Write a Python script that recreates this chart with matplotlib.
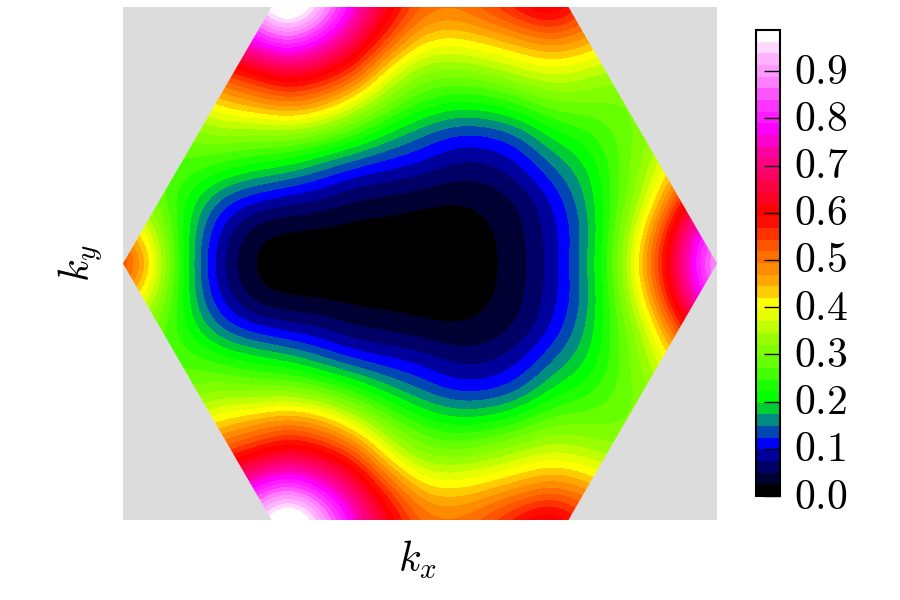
import numpy as np
import matplotlib.pyplot as plt
from matplotlib.colors import ListedColormap, BoundaryNorm
from matplotlib.patches import Polygon

plt.rcParams['mathtext.fontset'] = 'cm'

# band colours of the colorbar, bottom to top
band_colors = [
    '#000000', '#000033', '#000066', '#00009c', '#0000ff', '#0047b3', '#008c80', '#00cc33',
    '#00ff00', '#1eff00', '#44ff00', '#66ff00', '#80ff00', '#99ff00', '#c0ff00', '#e6ff00',
    '#ffff00', '#ffcc00', '#ffa600', '#ff8c00', '#ff6f00', '#ff5500', '#ff3300', '#ff0d00',
    '#ff0000', '#ff0022', '#ff0040', '#ff0060', '#ff0080', '#ff00a0', '#ff00cc', '#ff00ff',
    '#ff1aff', '#ff33ff', '#ff55ff', '#ff80ff', '#ff99ff', '#ffb3ff', '#ffd9ff', '#ffffff',
]
vmax = 0.987
tick_values = [0.0, 0.1, 0.2, 0.3, 0.4, 0.5, 0.6, 0.7, 0.8, 0.9]
tick_labels = ['$0.0$', '$0.1$', '$0.2$', '$0.3$', '$0.4$', '$0.5$', '$0.6$', '$0.7$', '$0.8$', '$0.9$']

# field values, rows from top to bottom
field = np.array([
    [.52, .60, .72, .85, .93, 1.10, .94, .77, .63, .52, .50, .54, .60, .655, .56, .50, .48, .48, .46],
    [.45, .52, .62, .72, .80, .87, .79, .68, .55, .43, .415, .435, .465, .50, .47, .42, .40, .42, .42],
    [.36, .42, .50, .55, .60, .66, .62, .56, .40, .32, .31, .33, .36, .385, .36, .33, .33, .36, .38],
    [.30, .32, .38, .43, .465, .50, .47, .385, .30, .245, .215, .22, .25, .295, .295, .29, .31, .34, .38],
    [.30, .27, .30, .325, .31, .32, .29, .245, .19, .148, .115, .115, .14, .205, .235, .275, .32, .38, .44],
    [.32, .27, .265, .235, .21, .19, .15, .118, .10, .09, .065, .063, .09, .145, .19, .265, .345, .46, .55],
    [.36, .29, .215, .135, .10, .082, .072, .045, .04, .03, .022, .03, .048, .097, .168, .265, .38, .58, .72],
    [.48, .35, .188, .085, .026, .015, .014, .012, .01, .008, .009, .018, .039, .084, .148, .28, .46, .70, .87],
    [.60, .40, .18, .068, .015, .008, .007, .005, .004, .004, .006, .016, .036, .083, .16, .29, .51, .72, .95],
    [.48, .35, .188, .085, .026, .015, .014, .012, .01, .008, .009, .018, .039, .084, .148, .28, .46, .70, .87],
    [.36, .29, .215, .135, .10, .082, .072, .045, .04, .03, .022, .03, .048, .097, .168, .265, .38, .58, .72],
    [.32, .27, .265, .235, .21, .19, .15, .118, .10, .09, .065, .063, .09, .145, .19, .265, .345, .46, .55],
    [.30, .27, .30, .325, .31, .32, .29, .245, .19, .148, .115, .115, .14, .205, .235, .275, .32, .38, .44],
    [.30, .32, .38, .43, .465, .50, .47, .385, .30, .245, .215, .22, .25, .295, .295, .29, .31, .34, .38],
    [.36, .42, .50, .55, .60, .66, .62, .56, .40, .32, .31, .33, .36, .385, .36, .33, .33, .36, .38],
    [.45, .52, .62, .72, .80, .87, .79, .68, .55, .43, .415, .435, .465, .50, .47, .42, .40, .42, .42],
    [.52, .60, .72, .85, .93, 1.10, .94, .77, .63, .52, .50, .54, .60, .655, .56, .50, .48, .48, .46],
])

kx_max = 4 * np.pi / 3
ky_max = 2 * np.pi / np.sqrt(3)
nrow, ncol = field.shape
dx = 2 * kx_max / (ncol - 1) / 2
dy = 2 * ky_max / (nrow - 1) / 2

cmap = ListedColormap(band_colors)
cmap.set_under(band_colors[0])
cmap.set_over(band_colors[-1])
levels = np.linspace(0, vmax, len(band_colors) + 1)
norm = BoundaryNorm(levels, cmap.N)

fig = plt.figure(figsize=(9, 6), dpi=100)
ax = fig.add_axes([123 / 900, 1 - 520 / 600, 594 / 900, 513 / 600])
ax.set_facecolor('#dcdcdc')
im = ax.imshow(field, extent=(-kx_max - dx, kx_max + dx, -ky_max - dy, ky_max + dy),
               origin='upper', aspect='auto', cmap=cmap, norm=norm,
               interpolation='bicubic', interpolation_stage='data')
ax.set_xlim(-kx_max, kx_max)
ax.set_ylim(-ky_max, ky_max)

# first Brillouin zone
hexagon = Polygon([(-kx_max, 0), (-kx_max / 2, ky_max), (kx_max / 2, ky_max),
                   (kx_max, 0), (kx_max / 2, -ky_max), (-kx_max / 2, -ky_max)],
                  transform=ax.transData, facecolor='none', edgecolor='none')
ax.add_patch(hexagon)
im.set_clip_path(hexagon)

ax.set_xticks([])
ax.set_yticks([])
for s in ax.spines.values():
    s.set_visible(False)

fig.text(417 / 900, 1 - 560 / 600, '$k_x$', fontsize=30, ha='center', va='center')
fig.text(81 / 900, 1 - 263 / 600, '$k_y$', fontsize=30, ha='center', va='center', rotation=90)

cax = fig.add_axes([756 / 900, 1 - 496 / 600, 24 / 900, 466 / 600])
cb = fig.colorbar(im, cax=cax, ticks=tick_values, spacing='proportional', drawedges=False)
cb.ax.minorticks_off()
cb.ax.set_yticklabels([])
cb.ax.tick_params(direction='in', length=11.5, width=1.0, color='black')
# labels placed by hand to line up with the ticks
for v, lab in zip(tick_values, tick_labels):
    cb.ax.annotate(lab, xy=(1, v), xycoords=cb.ax.get_yaxis_transform(), xytext=(10.2, -0.4),
                   textcoords='offset points', fontsize=30, ha='left', va='center')
cb.outline.set_linewidth(1.5)
cb.outline.set_edgecolor('black')

plt.savefig('out.png', dpi=100)
plt.close()
